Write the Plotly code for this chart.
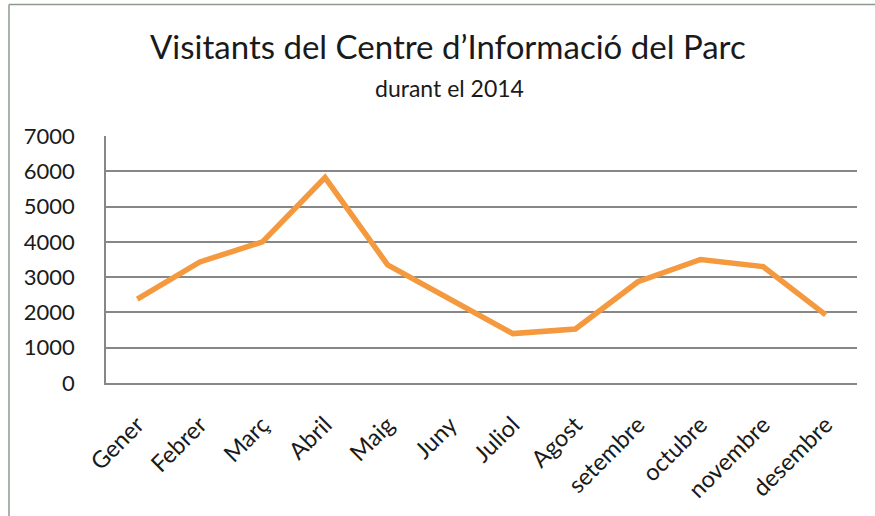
import plotly.graph_objects as go

months = ["Gener", "Febrer", "Març", "Abril", "Maig", "Juny", "Juliol", "Agost",
          "setembre", "octubre", "novembre", "desembre"]
visitors = [2380, 3430, 4000, 5820, 3350, 2380, 1400, 1530, 2870, 3500, 3300, 1930]
y_ticks = [0, 1000, 2000, 3000, 4000, 5000, 6000, 7000]
title_text = "Visitants del Centre d’Informació del Parc"
subtitle_text = "durant el 2014"

W, H = 875, 516
L, R, T, B = 106, 18, 136, 133
PW, PH = W - L - R, H - T - B

def px(x):
    return (x - L) / PW

def py(y):
    return (H - B - y) / PH

FONT = "Lato"
LINE_COLOR = "#F4993E"
GRID = "#878787"

fig = go.Figure()
fig.add_trace(go.Scatter(
    x=list(range(len(months))), y=visitors, mode="lines",
    line=dict(color=LINE_COLOR, width=5.5), hoverinfo="x+y",
))

fig.update_layout(
    width=W, height=H,
    margin=dict(l=L, r=R, t=T, b=B, pad=0),
    paper_bgcolor="white", plot_bgcolor="white",
    showlegend=False,
    font=dict(family=FONT, color="#1a1a1a"),
    xaxis=dict(
        range=[-0.5, len(months) - 0.5],
        tickmode="array", tickvals=list(range(len(months))), ticktext=months,
        tickangle=-45, tickfont=dict(size=23.5, family=FONT, color="#1a1a1a"),
        showgrid=False, zeroline=False, showline=True, linecolor=GRID, linewidth=1.6,
        ticks="", ticklabelstandoff=17, fixedrange=True,
    ),
    yaxis=dict(
        range=[0, 7000], tickmode="array", tickvals=y_ticks,
        ticktext=[str(v) for v in y_ticks],
        tickfont=dict(size=22, family=FONT, color="#1a1a1a"),
        showgrid=True, gridcolor=GRID, gridwidth=1.6,
        zeroline=False, showline=True, linecolor=GRID, linewidth=1.6,
        ticks="", ticklabelstandoff=25, fixedrange=True,
    ),
    annotations=[
        dict(text=title_text, xref="paper", yref="paper", x=px(448), y=py(46),
             xanchor="center", yanchor="middle", showarrow=False,
             font=dict(size=33, family=FONT, color="#1a1a1a")),
        dict(text=subtitle_text, xref="paper", yref="paper", x=px(449), y=py(88),
             xanchor="center", yanchor="middle", showarrow=False,
             font=dict(size=23, family=FONT, color="#1a1a1a")),
    ],
    shapes=[
        dict(type="line", xref="paper", yref="paper", x0=px(9), x1=px(W + 5),
             y0=py(4.5), y1=py(4.5), line=dict(color="#8C9A8C", width=1.5)),
        dict(type="line", xref="paper", yref="paper", x0=px(9), x1=px(9),
             y0=py(4.5), y1=py(H + 5), line=dict(color="#8C9A8C", width=1.5)),
    ],
)

fig.write_html("out.html", config={"displayModeBar": False},
               post_script="document.body.style.margin='0';")
